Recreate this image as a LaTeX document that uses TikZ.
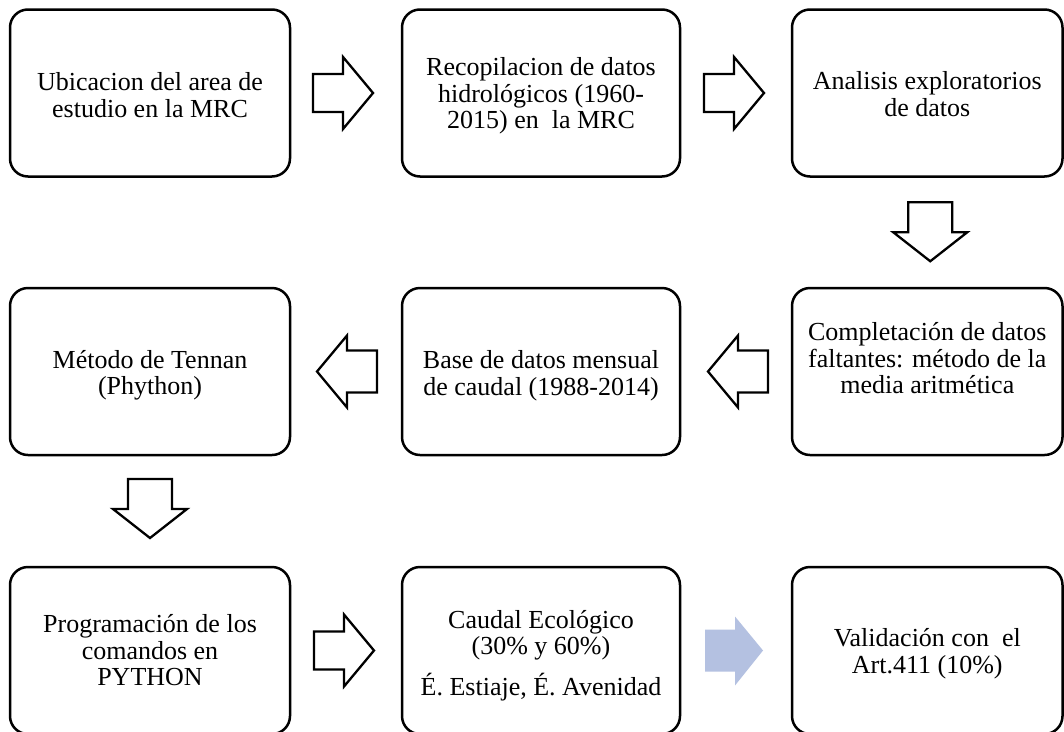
\documentclass[tikz,border=0pt]{standalone}
\usepackage{fontspec}
\setmainfont{Liberation Serif}
\usetikzlibrary{calc}
\definecolor{lightblue}{RGB}{180,193,225}
\begin{document}
\begin{tikzpicture}[x=1pt,y=-1pt,
  box/.style={draw, line width=2.5pt, rounded corners=18pt, minimum height=167pt, outer sep=0pt, inner sep=0pt},
  txt/.style={align=center, font=\fontsize{26}{26.5}\selectfont, inner sep=0pt},
  blk/.style={draw, line width=2.3pt, fill=white, line join=miter},
  rarrow/.pic={\path[blk] (-30,-19) -- (0,-19) -- (0,-36) -- (30,0) -- (0,36) -- (0,19) -- (-30,19) -- cycle;},
  larrow/.pic={\path[blk] (30,-21) -- (0,-21) -- (0,-36) -- (-30,0) -- (0,36) -- (0,21) -- (30,21) -- cycle;},
  darrow/.pic={\path[blk] (-22,-30) -- (22,-30) -- (22,0) -- (37,0) -- (0,29) -- (-37,0) -- (-22,0) -- cycle;},
  barrow/.pic={\fill[lightblue] (-29,-21) -- (1,-21) -- (1,-34) -- (29,0) -- (1,35) -- (1,21) -- (-29,21) -- cycle;}
]
\clip (0,0) rectangle (1064,731);
\fill[white] (0,0) rectangle (1064,731);
% boxes
\node[box, minimum width=280pt] (b1) at (150,93) {};
\node[box, minimum width=278pt] (b2) at (541,93) {};
\node[box, minimum width=270.5pt] (b3) at (927.25,93) {};
\node[box, minimum width=270.5pt] (b4) at (927.25,371.5) {};
\node[box, minimum width=278pt] (b5) at (541,371.5) {};
\node[box, minimum width=280pt] (b6) at (150,371.5) {};
\node[box, minimum width=280pt] (b7) at (150,650.5) {};
\node[box, minimum width=278pt] (b8) at (541,650.5) {};
\node[box, minimum width=270.5pt] (b9) at (927.25,650.5) {};
% texts
\node[txt] (t1) at ($(b1.center)+(0,2)$) {Ubicacion del area de\\estudio en la MRC};
\node[txt] (t2) at ($(b2.center)+(0,3)$) {Recopilacion de datos\\hidrológicos (1960-\\2015) en\ \ la MRC};
\node[txt] (t3) at ($(b3.center)+(0,1)$) {Analisis exploratorios\\de datos};
\node[txt] (t4) at ($(b4.center)+(0,-13)$) {Completación de datos\\faltantes: método de la\\media aritmética};
\node[txt] (t5) at ($(b5.center)+(0,4)$) {Base de datos mensual\\de caudal (1988-2014)};
\node[txt] (t6) at ($(b6.center)+(0,4)$) {Método de Tennan\\(Phython)};
\node[txt] (t7) at ($(b7.center)+(0,0)$) {Programación de los\\comandos en\\PYTHON};
\node[txt] (t8) at ($(b8.center)+(0,5)$) {Caudal Ecológico\\(30\% y 60\%)\\[12pt]É. Estiaje, É. Avenidad};
\node[txt] (t9) at ($(b9.center)+(0,3)$) {Validación con\ \ el\\Art.411 (10\%)};
% arrows
\coordinate (a1) at ($(b1.east)!0.5!(b2.west)+(-3,0)$);
\coordinate (a2) at ($(b2.east)!0.5!(b3.west)+(-2,0)$);
\coordinate (a3) at ($(b3.south)!0.5!(b4.north)+(3,0)$);
\coordinate (a4) at ($(b4.west)!0.5!(b5.east)+(2,0)$);
\coordinate (a5) at ($(b5.west)!0.5!(b6.east)+(1,0)$);
\coordinate (a6) at ($(b6.south)!0.5!(b7.north)+(0,-2)$);
\coordinate (a7) at ($(b7.east)!0.5!(b8.west)+(-2,0)$);
\coordinate (a8) at ($(b8.east)!0.5!(b9.west)+(-2,0)$);
\pic at (a1) {rarrow};
\pic at (a2) {rarrow};
\pic at (a3) {darrow};
\pic at (a4) {larrow};
\pic at (a5) {larrow};
\pic at (a6) {darrow};
\pic at (a7) {rarrow};
\pic at (a8) {barrow};
\end{tikzpicture}
\end{document}
